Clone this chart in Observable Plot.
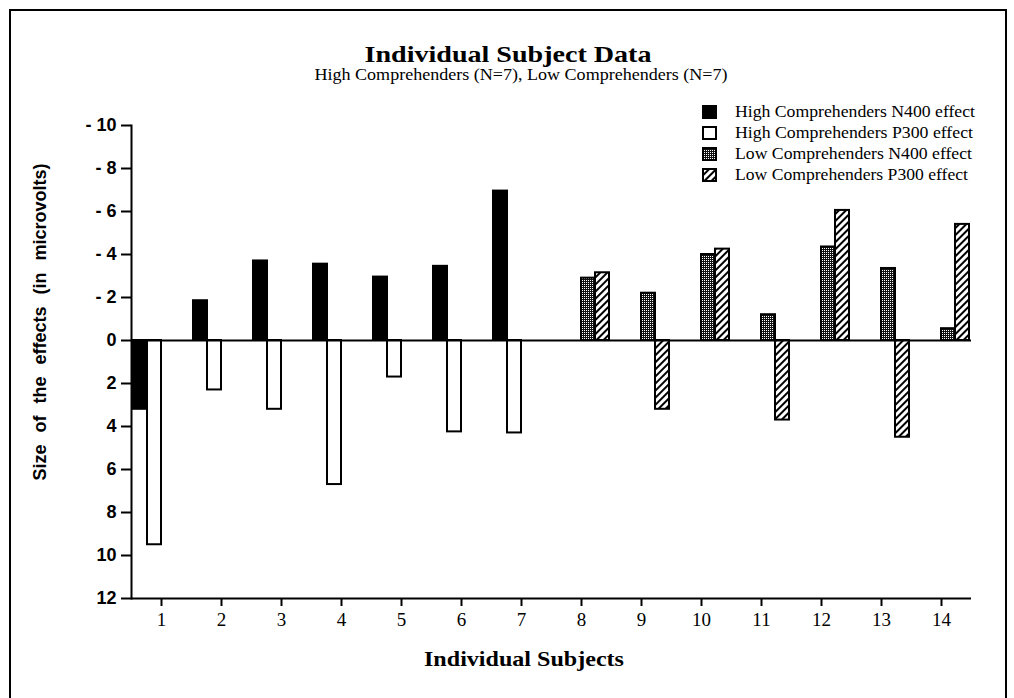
<!DOCTYPE html>
<html><head><meta charset="utf-8">
<script src="https://cdn.jsdelivr.net/npm/d3@7"></script>
<script src="https://cdn.jsdelivr.net/npm/@observablehq/plot@0.6"></script>
<style>
html,body{margin:0;padding:0;background:#fff;width:1014px;height:698px;overflow:hidden;}
#wrap{position:relative;width:1014px;height:698px;}
#border{position:absolute;left:9px;top:9px;width:998px;height:760px;border:2px solid #000;box-sizing:border-box;}
#chart{position:absolute;left:0;top:0;}
#overlay{position:absolute;left:0;top:0;pointer-events:none;}
</style></head>
<body>
<div id="wrap">
<div id="border"></div>
<div id="chart"></div>
<svg id="overlay" width="1014" height="698" xmlns="http://www.w3.org/2000/svg">
  <defs>
    <pattern id="stipple" patternUnits="userSpaceOnUse" width="2" height="2">
      <rect width="2" height="2" fill="#111"/>
      <rect width="1" height="1" fill="#fff"/>
    </pattern>
    <pattern id="hatch" patternUnits="userSpaceOnUse" width="5" height="5" patternTransform="rotate(45)">
      <rect width="5" height="5" fill="#fff"/>
      <rect width="2" height="5" fill="#000"/>
    </pattern>
  </defs>
</svg>
</div>
<script>
// ---- data ----
const subjects = [1, 2, 3, 4, 5, 6, 7, 8, 9, 10, 11, 12, 13, 14];
const highSubjects = [1, 2, 3, 4, 5, 6, 7];
const lowSubjects = [8, 9, 10, 11, 12, 13, 14];
const seriesNames = [
  "High Comprehenders N400 effect",
  "High Comprehenders P300 effect",
  "Low Comprehenders N400 effect",
  "Low Comprehenders P300 effect"
];
const highN400 = [3.2, -1.85, -3.7, -3.55, -2.95, -3.45, -6.95];
const highP300 = [9.5, 2.3, 3.2, 6.7, 1.7, 4.25, 4.3];
const lowN400 = [-2.9, -2.2, -4.0, -1.2, -4.35, -3.35, -0.55];
const lowP300 = [-3.15, 3.2, -4.25, 3.7, -6.05, 4.5, -5.4];
const yTicks = [-10, -8, -6, -4, -2, 0, 2, 4, 6, 8, 10, 12];
const titleText = "Individual Subject Data";
const subtitleText = "High Comprehenders (N=7), Low Comprehenders (N=7)";
const xLabel = "Individual Subjects";
const yLabel = "Size of the effects (in microvolts)";

// ---- table ----
const fills = ["#000", "#fff", "url(#stipple)", "url(#hatch)"];
const rows = [];
highSubjects.forEach((s, i) => {
  rows.push({subject: s, series: seriesNames[0], value: highN400[i]});
  rows.push({subject: s, series: seriesNames[1], value: highP300[i]});
});
lowSubjects.forEach((s, i) => {
  rows.push({subject: s, series: seriesNames[2], value: lowN400[i]});
  rows.push({subject: s, series: seriesNames[3], value: lowP300[i]});
});

const chart = Plot.plot({
  width: 1014,
  height: 698,
  marginTop: 125,
  marginBottom: 100,
  marginLeft: 125,
  marginRight: 37,
  fx: {domain: subjects, padding: 0, label: null},
  x: {domain: seriesNames, paddingInner: 0, paddingOuter: 0.1, axis: null},
  y: {domain: [12, -10], label: null},
  color: {domain: seriesNames, range: fills},
  marks: [
    Plot.ruleY([12], {stroke: "#000", strokeWidth: 2}),
    Plot.frame({anchor: "left", facetAnchor: "left", stroke: "#000", strokeWidth: 2}),
    Plot.barY(rows, {fx: "subject", x: "series", y: "value", fill: "series", stroke: "#000", strokeWidth: 2}),
    Plot.ruleY([0], {stroke: "#000", strokeWidth: 2}),
    Plot.axisY({
      ticks: yTicks,
      tickFormat: d => d < 0 ? "- " + (-d) : String(d),
      tickSize: 10, tickPadding: 5, strokeWidth: 2, label: null,
      fontSize: 18, fontWeight: "bold", fontFamily: "Liberation Sans", fill: "#000"
    }),
    Plot.axisFx({
      anchor: "bottom", tickSize: 8, tickPadding: 6, strokeWidth: 2, label: null,
      fontSize: 19, fontFamily: "Liberation Serif", fill: "#000"
    })
  ]
});
chart.style.color = "#000";
document.getElementById("chart").appendChild(chart);

// ---- overlay texts & legend ----
const ov = d3.select("#overlay");
ov.append("text").text(titleText)
  .attr("x", 508).attr("y", 62).attr("text-anchor", "middle")
  .attr("font-family", "Liberation Serif").attr("font-weight", "bold").attr("font-size", 24)
  .attr("textLength", 287).attr("lengthAdjust", "spacingAndGlyphs");
ov.append("text").text(subtitleText)
  .attr("x", 521).attr("y", 80).attr("text-anchor", "middle")
  .attr("font-family", "Liberation Serif").attr("font-size", 16)
  .attr("textLength", 413).attr("lengthAdjust", "spacingAndGlyphs");
ov.append("text").text(xLabel)
  .attr("x", 524).attr("y", 666).attr("text-anchor", "middle")
  .attr("font-family", "Liberation Serif").attr("font-weight", "bold").attr("font-size", 22)
  .attr("textLength", 200).attr("lengthAdjust", "spacingAndGlyphs");
ov.append("text").text(yLabel)
  .attr("transform", "translate(46,322) rotate(-90)").attr("text-anchor", "middle")
  .attr("font-family", "Liberation Sans").attr("font-weight", "bold").attr("font-size", 18)
  .attr("word-spacing", 7);

const legendLengths = [240, 238, 237, 233];
seriesNames.forEach((name, i) => {
  const base = 117 + i * 21;
  ov.append("rect").attr("x", 703).attr("y", base - 11).attr("width", 13).attr("height", 12)
    .attr("fill", fills[i]).attr("stroke", "#000").attr("stroke-width", 2);
  ov.append("text").text(name).attr("x", 735).attr("y", base)
    .attr("font-family", "Liberation Serif").attr("font-size", 16)
    .attr("textLength", legendLengths[i]).attr("lengthAdjust", "spacingAndGlyphs");
});
</script>
</body></html>
